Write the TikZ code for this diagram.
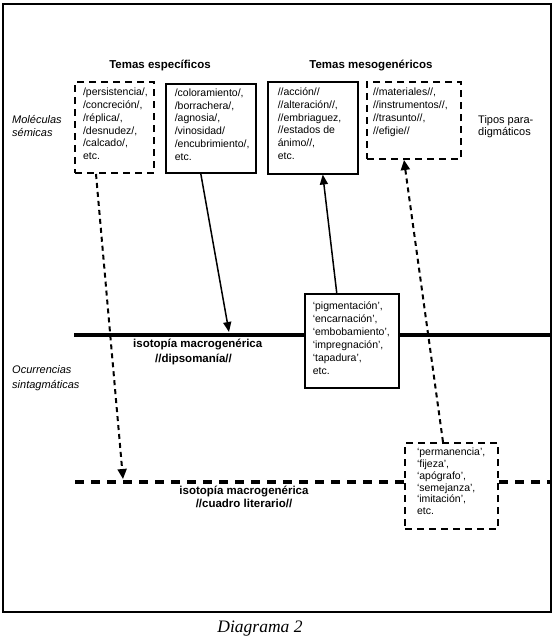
\documentclass[tikz,border=0pt]{standalone}
\usepackage{fontspec}
\setmainfont{Liberation Sans}
\newfontfamily\capfont{Liberation Serif}
\usetikzlibrary{arrows.meta}
\newcommand{\bxt}[4][12.8]{\parbox[c][#3][t]{#2}{\raggedright\fontsize{10.5}{#1}\selectfont #4}}
\tikzset{
  bx/.style={draw, line width=1.5pt, inner ysep=6pt, anchor=north west},
  dbx/.style={bx, line width=2pt, dash pattern=on 7pt off 5pt},
  ttl/.style={font=\fontsize{11.5}{14}\selectfont\bfseries, inner sep=0pt},
  lbl/.style={font=\fontsize{11}{13}\selectfont\itshape, inner sep=0pt, align=left, anchor=west},
  sarrow/.style={line width=1.5pt, -{Triangle[length=10pt,width=8pt]}},
  darrow/.style={line width=2pt, dash pattern=on 5pt off 4pt, -{Triangle[length=10pt,width=9pt]}},
  thickline/.style={line width=4pt},
  thickdash/.style={line width=3.5pt, dash pattern=on 9pt off 7pt},
}
\begin{document}
\begin{tikzpicture}[x=1pt,y=-1pt]
\useasboundingbox (0,0) rectangle (553,641);
\draw[line width=2pt] (3,4) rectangle (551,612);

\node[ttl] (t1) at (160,65) {Temas específicos};
\node[ttl] (t2) at (371,65) {Temas mesogenéricos};

\node[lbl] (mol) at (12,125.5) {Moléculas\\sémicas};
\node[lbl, font=\fontsize{11}{12}\selectfont] (tip) at (478,127) {Tipos para-\\digmáticos};
\node[lbl, font=\fontsize{11}{15}\selectfont\itshape] (ocu) at (12,378) {Ocurrencias\\sintagmáticas};

\node[dbx, inner xsep=8pt] (b1) at (74,81) {\bxt{63pt}{79pt}{/persistencia/,\\/concreción/,\\/réplica/,\\/desnudez/,\\/calcado/,\\etc.}};
\node[bx, inner xsep=9pt, inner ysep=5pt] (b2) at (165,83) {\bxt{72pt}{79pt}{/coloramiento/,\\/borrachera/,\\/agnosia/,\\/vinosidad/\\/encubrimiento/,\\etc.}};
\node[bx, inner xsep=10pt] (b3) at (267,81) {\bxt{70pt}{80pt}{//acción//\\//alteración//,\\//embriaguez,\\//estados de\\ánimo//,\\etc.}};
\node[dbx, inner xsep=6pt] (b4) at (366,81) {\bxt{82pt}{65pt}{//materiales//,\\//instrumentos//,\\//trasunto//,\\//efigie//}};
\node[bx, fill=white, inner xsep=8pt, inner ysep=8pt] (b5) at (304,293) {\bxt[13]{78pt}{78pt}{‘pigmentación’,\\‘encarnación’,\\‘embobamiento’,\\‘impregnación’,\\‘tapadura’,\\etc.}};
\node[dbx, fill=white, inner xsep=12pt, inner ysep=5pt] (b6) at (404,442) {\bxt[11.8]{69pt}{76pt}{‘permanencia’,\\‘fijeza’,\\‘apógrafo’,\\‘semejanza’,\\‘imitación’,\\etc.}};

% thick solid isotopy line
\coordinate (l1s) at (74,335);
\coordinate (l1e) at (551,335);
\draw[thickline] (l1s) -- (l1s -| b5.west);
\draw[thickline] (b5.east |- l1s) -- (l1e);
\node[ttl, align=left, anchor=north west, font=\fontsize{11.5}{14.5}\selectfont\bfseries] (iso1) at (133,339) {isotopía macrogenérica\\\hspace*{22pt}//dipsomanía//};

% thick dashed isotopy line
\coordinate (l2s) at (75,482);
\coordinate (l2e) at (551,482);
\draw[thickdash] (l2s) -- (l2s -| b6.west);
\draw[thickdash] (b6.east |- l2s) -- (l2e);
\node[ttl, align=center, font=\fontsize{11.5}{12.5}\selectfont\bfseries] (iso2) at (244,497) {isotopía macrogenérica\\//cuadro literario//};

% connectors
\coordinate (a1) at (229,332);
\coordinate (a2) at (123,479);
\draw[sarrow] ([xshift=-10pt]b2.south) -- (a1);
\draw[sarrow] ([xshift=-15pt]b5.north) -- ([xshift=10pt]b3.south);
\draw[darrow] ([xshift=-18.5pt]b1.south) -- (a2);
\draw[darrow] ([xshift=-8.5pt]b6.north) -- ([xshift=-10pt]b4.south);

\node[font=\capfont\itshape\fontsize{17.5}{20}\selectfont, inner sep=0pt] (cap) at (260,629) {Diagrama 2};
\end{tikzpicture}
\end{document}
